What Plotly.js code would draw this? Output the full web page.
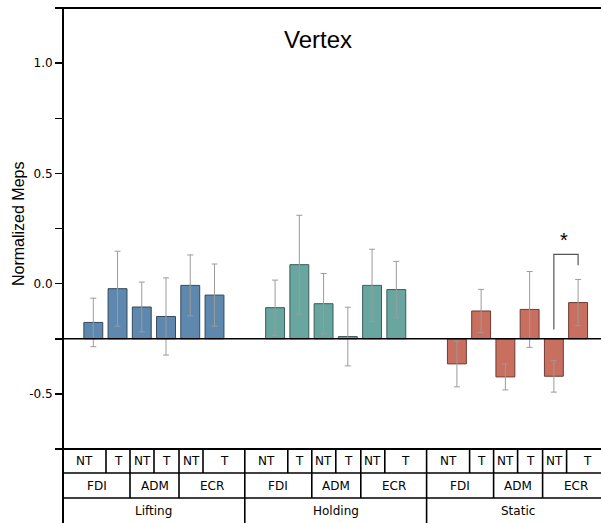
<!DOCTYPE html>
<html>
<head>
<meta charset="utf-8">
<script src="https://cdn.plot.ly/plotly-3.0.1.min.js"></script>
<style>html,body{margin:0;padding:0;overflow:hidden;background:#fff}</style>
</head>
<body>
<div id="chart" style="width:601px;height:523px"></div>
<script>
// ---- data ----
const conditions = ['Lifting', 'Holding', 'Static'];
const muscles = ['FDI', 'ADM', 'ECR'];
const hands = ['NT', 'T'];
const liftingMeans = [-0.176, -0.023, -0.106, -0.149, -0.008, -0.052];
const liftingErr   = [0.110, 0.170, 0.113, 0.175, 0.138, 0.141];
const holdingMeans = [-0.109, 0.086, -0.091, -0.240, -0.008, -0.027];
const holdingErr   = [0.125, 0.224, 0.137, 0.133, 0.164, 0.128];
const staticMeans  = [-0.364, -0.124, -0.423, -0.117, -0.420, -0.086];
const staticErr    = [0.104, 0.098, 0.059, 0.172, 0.072, 0.105];
const baseline = -0.25;
const yTickVals = [-0.5, -0.25, 0, 0.25, 0.5, 0.75, 1.0];
const yTickText = ['-0.5', '', '0.0', '', '0.5', '', '1.0'];

// ---- layout constants ----
const W = 601, H = 523, ML = 63, MT = 8, MB = 74;
const PW = W - ML, PH = H - MT - MB;
const GROUP_UNITS = 7.5, FIRST = 1.25, UNIT_PX = 24.24;
const XMAX = PW / UNIT_PX;
const colors = ['#5f88ae', '#69a6a0', '#c96f60'];
const edges = ['#34495c', '#3c5c58', '#6e3a31'];
const allMeans = [liftingMeans, holdingMeans, staticMeans];
const allErr = [liftingErr, holdingErr, staticErr];

const traces = conditions.map((c, g) => {
  const means = allMeans[g];
  return {
    type: 'bar',
    name: c,
    x: means.map((_, i) => g * GROUP_UNITS + FIRST + i),
    y: means.map(v => v - baseline),
    base: baseline,
    width: 0.78,
    marker: {color: colors[g], line: {color: edges[g], width: 1}},
    error_y: {type: 'data', array: allErr[g], visible: true, color: '#9b9b9b', thickness: 1, width: 3},
    hoverinfo: 'skip',
    showlegend: false
  };
});

// ---- table (category labels under the plot) ----
const px2p = px => px / PW;           // horizontal px offset from plot left -> paper
const py2p = py => (H - MB - py) / PH; // page y px -> paper
const groupPx = GROUP_UNITS * UNIT_PX;
const handEdges = [0, 43, 67, 91, 116, 140, 182];
const muscleEdges = [0, 67, 116, 182];
const rowY = [449, 473, 498, 523];
const shapes = [];
const annotations = [];
const line = (x0, y0, x1, y1, w) => shapes.push({type: 'line', xref: 'paper', yref: 'paper',
  x0: x0, y0: y0, x1: x1, y1: y1, line: {color: '#000', width: w || 1.6}});
const txt = (x, y, t, size) => annotations.push({xref: 'paper', yref: 'paper', x: x, y: y,
  text: t, showarrow: false, xanchor: 'center', yanchor: 'middle',
  font: {family: 'DejaVu Sans', size: size || 12, color: '#000'}});

// frame lines
line(px2p(-8), 1, 1, 1, 2);
line(px2p(-8), 0, 1, 0, 2);
line(0, 1, 0, py2p(rowY[3]), 2);
line(0, py2p(rowY[1]), 1, py2p(rowY[1]));
line(0, py2p(rowY[2]), 1, py2p(rowY[2]));

conditions.forEach((c, g) => {
  const g0 = g * groupPx;
  for (let i = 0; i < hands.length * muscles.length; i++) {
    const a = g0 + handEdges[i], b = g0 + handEdges[i + 1];
    txt(px2p((a + b) / 2), py2p((rowY[0] + rowY[1]) / 2), hands[i % 2]);
    if (i % 2 === 0) line(px2p(b), py2p(rowY[0]), px2p(b), py2p(rowY[1]));
  }
  muscles.forEach((m, k) => {
    const a = g0 + muscleEdges[k], b = g0 + muscleEdges[k + 1];
    txt(px2p((a + b) / 2), py2p((rowY[1] + rowY[2]) / 2), m);
    if (k < muscles.length - 1) line(px2p(b), py2p(rowY[0]), px2p(b), py2p(rowY[2]));
  });
  txt(px2p(g0 + groupPx / 2), py2p((rowY[2] + rowY[3]) / 2), c);
  if (g < conditions.length - 1) line(px2p(g0 + groupPx), py2p(rowY[0]), px2p(g0 + groupPx), py2p(rowY[3]));
});

// y-axis title
annotations.push({xref: 'paper', yref: 'paper', x: px2p(18 - ML), y: py2p(224), text: 'Normalized Meps',
  textangle: -90, showarrow: false, xanchor: 'center', yanchor: 'middle',
  font: {family: 'Liberation Sans', size: 16, color: '#000'}});

// baseline
shapes.push({type: 'line', xref: 'paper', yref: 'y', x0: 0, x1: 1, y0: baseline, y1: baseline,
  line: {color: '#000', width: 1.6}, layer: 'above'});

// significance bracket between Static ECR NT and T
const sigL = 2 * GROUP_UNITS + FIRST + 4, sigR = sigL + 1;
shapes.push({type: 'path', xref: 'x', yref: 'y',
  path: `M ${sigL} -0.208 L ${sigL} 0.133 L ${sigR} 0.133 L ${sigR} 0.083`,
  line: {color: '#555', width: 1.2}});
annotations.push({xref: 'x', yref: 'y', x: (sigL + sigR) / 2 - 0.1, y: 0.2, text: '*', showarrow: false,
  font: {family: 'Liberation Sans', size: 20, color: '#000'}, yanchor: 'middle'});

const layout = {
  width: W, height: H,
  margin: {l: ML, r: 0, t: MT, b: MB, pad: 0},
  paper_bgcolor: '#fff', plot_bgcolor: '#fff',
  title: {text: 'Vertex', x: 318 / W, xanchor: 'center', y: 1 - 40 / H, yanchor: 'middle', yref: 'container',
    font: {family: 'Liberation Sans', size: 24, color: '#000'}},
  xaxis: {range: [0, XMAX], showticklabels: false, ticks: '', showgrid: false, zeroline: false, showline: false, fixedrange: true},
  yaxis: {range: [-0.75, 1.25], tickvals: yTickVals, ticktext: yTickText, ticks: 'outside', ticklen: 7,
    tickwidth: 1.5, tickcolor: '#000', showgrid: false, zeroline: false, showline: false,
    tickfont: {family: 'DejaVu Sans', size: 12, color: '#000'}},
  bargap: 0,
  shapes: shapes,
  annotations: annotations
};

Plotly.newPlot('chart', traces, layout, {staticPlot: true, displayModeBar: false});
</script>
</body>
</html>
